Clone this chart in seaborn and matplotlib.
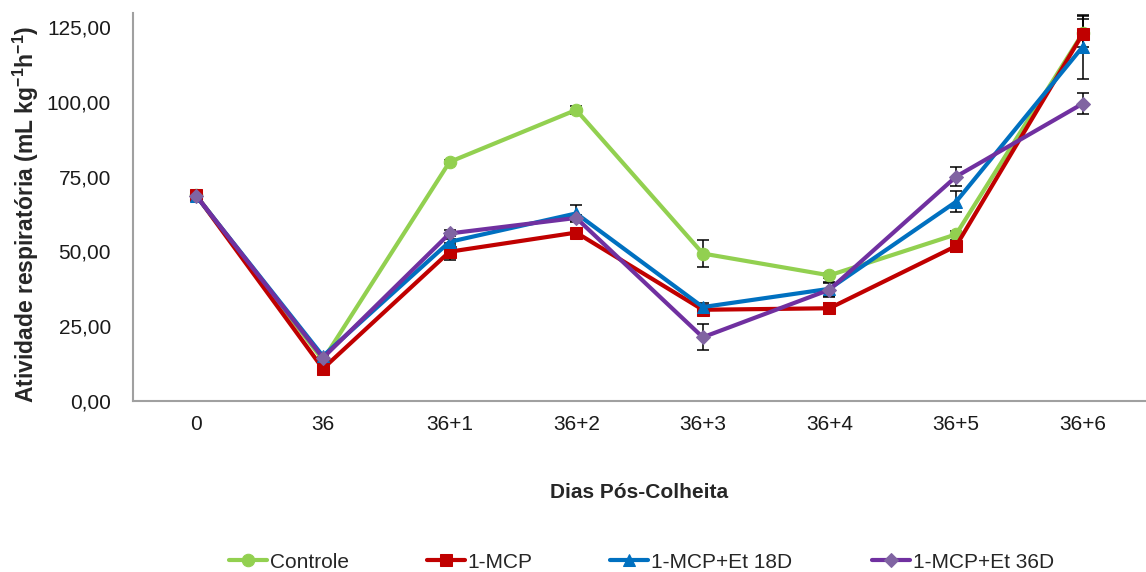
import numpy as np
import pandas as pd
import matplotlib
matplotlib.use("Agg")
import matplotlib.pyplot as plt
import seaborn as sns

categories = ["0", "36", "36+1", "36+2", "36+3", "36+4", "36+5", "36+6"]
controle = [68.7, 13.7, 79.9, 97.3, 49.3, 42.0, 55.7, 122.9]
mcp = [68.7, 10.8, 49.9, 56.3, 30.5, 31.0, 51.8, 122.7]
mcp_et18 = [68.5, 15.0, 53.2, 62.7, 31.4, 37.5, 66.6, 118.4]
mcp_et36 = [68.6, 14.4, 56.0, 61.2, 21.3, 37.2, 75.0, 99.4]
err_controle = [0.5, 0.5, 0.8, 1.2, 4.6, 0.8, 1.0, 4.7]
err_mcp = [0.5, 0.5, 2.8, 1.0, 1.0, 1.8, 2.0, 6.0]
err_mcp_et18 = [0.5, 0.5, 1.0, 2.8, 1.2, 2.3, 3.5, 10.6]
err_mcp_et36 = [0.5, 0.5, 1.0, 1.0, 4.4, 2.4, 3.2, 3.6]
series_names = ["Controle", "1-MCP", "1-MCP+Et 18D", "1-MCP+Et 36D"]
yticks = [0, 25, 50, 75, 100, 125]

sns.set_theme(style="white")
plt.rcParams["font.family"] = ["Liberation Sans", "DejaVu Sans"]
plt.rcParams["mathtext.fontset"] = "custom"
plt.rcParams["mathtext.rm"] = "Liberation Sans:bold"
plt.rcParams["mathtext.default"] = "rm"

W, H = 1146, 572
fig = plt.figure(figsize=(W / 100, H / 100), dpi=100)
ax = fig.add_axes([133 / W, 1 - 401 / H, 1 - 133 / W, (401 - 13) / H])

x = np.arange(len(categories))
values = [controle, mcp, mcp_et18, mcp_et36]
errors = [err_controle, err_mcp, err_mcp_et18, err_mcp_et36]
line_colors = ["#92D050", "#C00000", "#0070C0", "#7030A0"]
marker_colors = ["#92D050", "#C00000", "#0070C0", "#8064A2"]
markers = ["o", "s", "^", "D"]
msizes = [9, 8.5, 9, 7.5]

for name, vals, errs, lc, mc, mk, ms in zip(series_names, values, errors,
                                             line_colors, marker_colors, markers, msizes):
    df = pd.DataFrame({"x": x, "y": vals})
    ax.errorbar(x, vals, yerr=errs, fmt="none", ecolor="black", elinewidth=1.1,
                capsize=4, capthick=1.1, zorder=1)
    sns.lineplot(data=df, x="x", y="y", ax=ax, color=lc, linewidth=3.0,
                 marker=mk, markersize=ms, markerfacecolor=mc, markeredgecolor=mc,
                 label=name, zorder=3, legend=False)

ax.set_xlim(-0.5, 7.5 - 11 / 128)
ax.set_ylim(0, 129.7)
ax.set_yticks(yticks)
ax.set_yticklabels([f"{v:.2f}".replace(".", ",") for v in yticks], fontsize=15, color="#1a1a1a")
ax.set_xticks(x)
ax.set_xticklabels(categories, fontsize=15, color="#1a1a1a")
ax.set_xticks(np.arange(-0.5, 8.0, 1.0), minor=True)
ax.tick_params(axis="x", which="major", length=0, pad=10)
ax.tick_params(axis="x", which="minor", length=6, width=1.2, color="#A0A0A0", direction="out")
ax.tick_params(axis="y", which="major", length=6, width=1.2, color="#A0A0A0", direction="out", pad=10)

for s in ["top", "right"]:
    ax.spines[s].set_visible(False)
for s in ["left", "bottom"]:
    ax.spines[s].set_color("#A0A0A0")
    ax.spines[s].set_linewidth(1.5)

ax.set_xlabel("Dias Pós-Colheita", fontsize=15, fontweight="bold", labelpad=35)
ax.set_ylabel("Atividade respiratória (mL kg$^{-1}$h$^{-1}$)", fontsize=16.5,
              fontweight="bold")
ax.yaxis.set_label_coords(-92 / 1013, 0.48)

handles, labels = ax.get_legend_handles_labels()
starts = [229, 427, 610, 872]
for h, lab, xs in zip(handles, labels, starts):
    fig.legend([h], [lab], loc="center left", bbox_to_anchor=(xs / W, 1 - 562 / H),
               frameon=False, fontsize=15, handlelength=1.8, handletextpad=0.15,
               borderpad=0, borderaxespad=0)

fig.savefig("out.png", dpi=100)
